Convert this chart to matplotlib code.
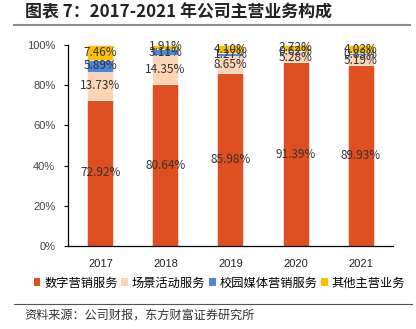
import matplotlib
matplotlib.use("Agg")
import matplotlib.pyplot as plt
from matplotlib.lines import Line2D
from matplotlib.patches import Patch

plt.rcParams['font.family'] = ['Noto Sans CJK SC', 'DejaVu Sans']

years = ["2017", "2018", "2019", "2020", "2021"]
series_names = ["数字营销服务", "场景活动服务", "校园媒体营销服务", "其他主营业务"]
digital = [72.92, 80.64, 85.98, 91.39, 89.93]
scene = [13.73, 14.35, 8.65, 5.28, 5.19]
campus = [5.89, 3.11, 1.27, 0.62, 0.85]
other = [7.46, 1.91, 4.10, 2.72, 4.03]
colors = ["#DF4F1F", "#FCD5B5", "#4E86DA", "#FFC000"]
y_ticks = [0, 20, 40, 60, 80, 100]
y_tick_labels = ["0%", "20%", "40%", "60%", "80%", "100%"]

fig = plt.figure(figsize=(4.16, 3.29), dpi=100)
ax = fig.add_axes([0.163, 0.252, 0.782, 0.611])

x = list(range(len(years)))
bottom = [0.0] * len(years)
for vals, color in zip([digital, scene, campus, other], colors):
    ax.bar(x, vals, width=0.4, bottom=bottom, color=color,
           edgecolor="white", linewidth=0.4)
    for xi, b, v in zip(x, bottom, vals):
        ax.text(xi, b + v / 2, f"{v:.2f}%", ha="center", va="center",
                fontsize=8.5, color="#333333")
    bottom = [b + v for b, v in zip(bottom, vals)]

ax.set_xlim(-0.5, 4.5)
ax.set_ylim(0, 100)
ax.set_xticks(x)
ax.set_xticklabels(years, fontsize=8, family="Liberation Sans", color="#222222")
ax.set_yticks(y_ticks)
ax.set_yticklabels(y_tick_labels, fontsize=8, family="Liberation Sans", color="#444444")
ax.tick_params(axis="x", length=0, pad=9)
ax.tick_params(axis="y", length=3, width=0.8, direction="out", pad=6)
for s in ["top", "right"]:
    ax.spines[s].set_visible(False)
ax.spines["left"].set_linewidth(0.9)
ax.spines["bottom"].set_linewidth(0.9)

# title and rules
fig.text(25 / 416, 1 - 12 / 329, "图表 7：2017-2021 年公司主营业务构成",
         fontsize=12.2, fontweight="bold", ha="left", va="center", color="#222222")
fig.add_artist(Line2D([14 / 416, 410 / 416], [1 - 25 / 329, 1 - 25 / 329],
                      color="#8C8C8C", linewidth=1.5))
fig.add_artist(Line2D([14 / 416, 412 / 416], [1 - 304 / 329, 1 - 304 / 329],
                      color="#555555", linewidth=0.8))

handles = [Patch(facecolor=c, edgecolor="none") for c in colors]
fig.legend(handles, series_names, loc="center", bbox_to_anchor=(0.527, 1 - 283 / 329),
           ncol=4, frameon=False, fontsize=8.8, handlelength=0.55, handleheight=0.55,
           handletextpad=0.3, columnspacing=0.3, borderpad=0, borderaxespad=0)

fig.text(24 / 416, 1 - 315 / 329, "资料来源：公司财报，东方财富证券研究所",
         fontsize=8.7, ha="left", va="center", color="#333333")

fig.savefig("out.png", dpi=100)
